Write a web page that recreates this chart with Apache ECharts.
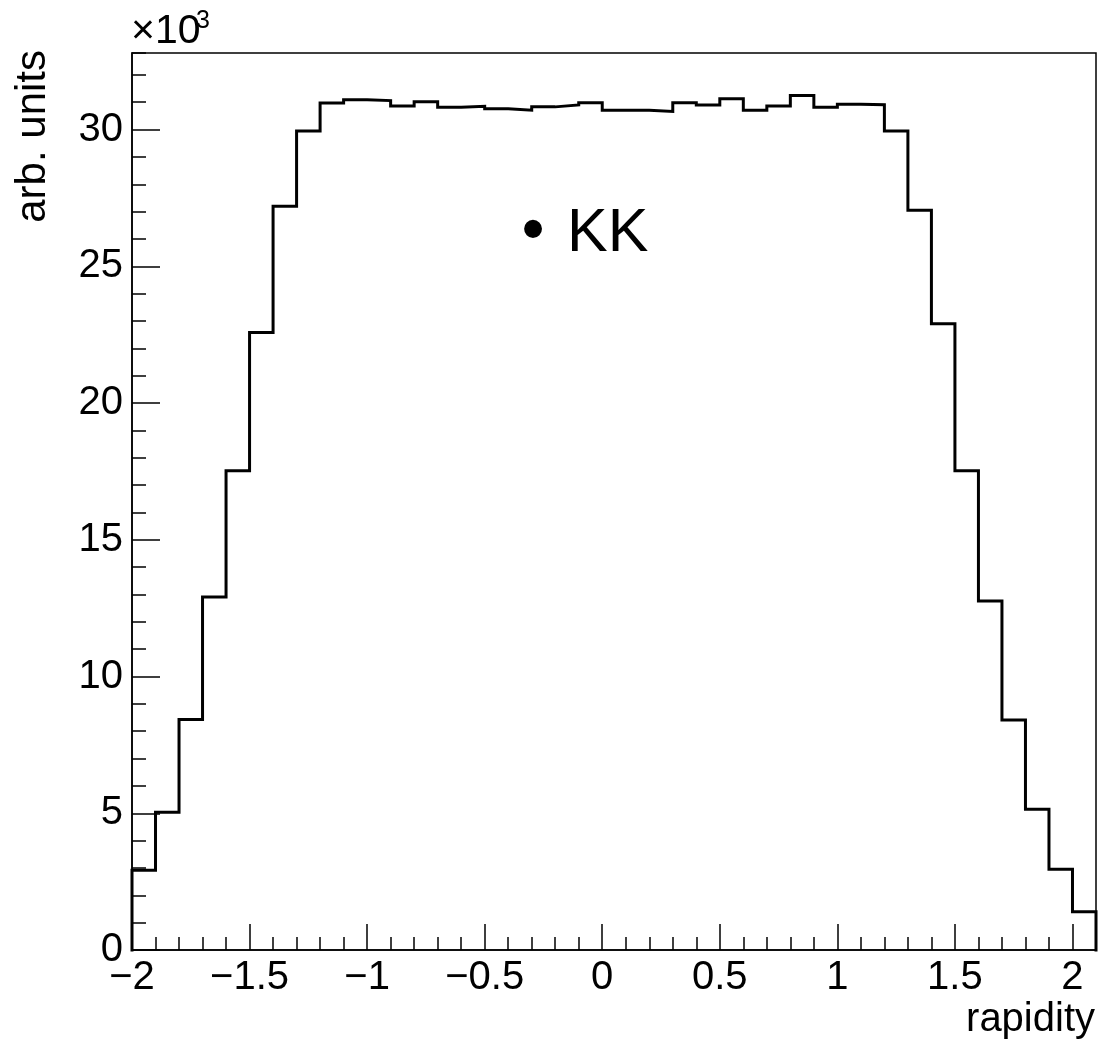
<!DOCTYPE html>
<html>
<head>
<meta charset="utf-8">
<script src="https://cdn.jsdelivr.net/npm/echarts@6/dist/echarts.min.js"></script>
<style>
  html, body { margin: 0; padding: 0; background: #ffffff; }
  #chart { width: 1105px; height: 1044px; }
</style>
</head>
<body>
<div id="chart"></div>
<script>
// Rapidity bin edges (41 bins, width 0.1)
const binEdges = [
  -2.0, -1.9, -1.8, -1.7, -1.6, -1.5, -1.4, -1.3, -1.2, -1.1,
  -1.0, -0.9, -0.8, -0.7, -0.6, -0.5, -0.4, -0.3, -0.2, -0.1,
   0.0,  0.1,  0.2,  0.3,  0.4,  0.5,  0.6,  0.7,  0.8,  0.9,
   1.0,  1.1,  1.2,  1.3,  1.4,  1.5,  1.6,  1.7,  1.8,  1.9,
   2.0,  2.1
];

// Entries per bin (arb. units)
const binCounts = [
   2920,  5040,  8430, 12910, 17520, 22580, 27200, 29950, 30970, 31090,
  31060, 30860, 31020, 30820, 30850, 30760, 30710, 30830, 30900, 30980,
  30710, 30710, 30660, 30980, 30900, 31130, 30710, 30860, 31250, 30820,
  30930, 30910, 29950, 27050, 22900, 17520, 12760,  8410,  5150,  2950,
   1400
];

// Axis ranges
const xRange = [-2.0, 2.1];
const yRange = [0, 32800];
const xMajorStep = 0.5, xMinorStep = 0.1;
const yMajorStep = 5000, yMinorStep = 1000;

const FONT = '"Liberation Sans", Arial, Helvetica, sans-serif';
const BLACK = '#000000';

// Outline of the histogram: start at zero on the first edge, one point per bin, back to zero on the last edge
const outline = [[binEdges[0], 0]];
binCounts.forEach((c, i) => outline.push([binEdges[i], c]));
outline.push([binEdges[binEdges.length - 1], binCounts[binCounts.length - 1]]);
outline.push([binEdges[binEdges.length - 1], 0]);

function minusSign(s) { return s.replace('-', '\u2212'); }
function near(a, b) { return Math.abs(a - b) < 1e-6; }

const chart = echarts.init(document.getElementById('chart'), null, { renderer: 'canvas' });

const tickStyle = { color: BLACK, width: 1.5 };

chart.setOption({
  animation: false,
  backgroundColor: '#ffffff',
  grid: {
    left: 132, top: 53, right: 9, bottom: 94,
    show: true, borderColor: BLACK, borderWidth: 1.5,
    backgroundColor: 'transparent'
  },
  xAxis: [
    {
      type: 'value', position: 'bottom',
      min: xRange[0], max: xRange[1], interval: xMajorStep,
      axisLine: { show: true, onZero: false, lineStyle: tickStyle },
      axisTick: { show: true, inside: true, length: 26, lineStyle: tickStyle },
      axisLabel: {
        color: BLACK, fontSize: 40, fontFamily: FONT, margin: 8,
        showMaxLabel: false,
        formatter: v => near(v, xRange[1]) ? '' : minusSign(String(+v.toFixed(2)))
      },
      splitLine: { show: false }
    },
    {
      type: 'value', position: 'bottom',
      min: xRange[0], max: xRange[1], interval: xMinorStep,
      axisLine: { show: false, onZero: false },
      axisTick: { show: true, inside: true, length: 13, lineStyle: tickStyle },
      axisLabel: { show: false },
      splitLine: { show: false }
    }
  ],
  yAxis: [
    {
      type: 'value', position: 'left',
      min: yRange[0], max: yRange[1], interval: yMajorStep,
      axisLine: { show: true, onZero: false, lineStyle: tickStyle },
      axisTick: { show: true, inside: true, length: 28, lineStyle: tickStyle },
      axisLabel: {
        color: BLACK, fontSize: 40, fontFamily: FONT, margin: 9,
        showMaxLabel: false,
        formatter: v => near(v, yRange[1]) ? '' : String(Math.round(v / 1000))
      },
      splitLine: { show: false }
    },
    {
      type: 'value', position: 'left',
      min: yRange[0], max: yRange[1], interval: yMinorStep,
      axisLine: { show: false, onZero: false },
      axisTick: { show: true, inside: true, length: 14, lineStyle: tickStyle },
      axisLabel: { show: false },
      splitLine: { show: false }
    }
  ],
  series: [
    {
      name: 'KK',
      type: 'line',
      xAxisIndex: 0, yAxisIndex: 0,
      step: 'end',
      data: outline,
      showSymbol: false,
      symbol: 'none',
      lineStyle: { color: BLACK, width: 3, join: 'miter', cap: 'square' },
      silent: true,
      clip: false
    }
  ],
  graphic: [
    {
      type: 'text', x: 33, y: 50, rotation: Math.PI / 2,
      style: { text: 'arb. units', font: '42px ' + FONT, fill: BLACK, align: 'right', verticalAlign: 'middle' }
    },
    {
      type: 'text', x: 1095, y: 1020,
      style: { text: 'rapidity', font: '40px ' + FONT, fill: BLACK, align: 'right', verticalAlign: 'middle' }
    },
    {
      type: 'text', x: 131, y: 32,
      style: { text: '\u00d710', font: '41px ' + FONT, fill: BLACK, align: 'left', verticalAlign: 'middle' }
    },
    {
      type: 'text', x: 196, y: 21,
      style: { text: '3', font: '25px ' + FONT, fill: BLACK, align: 'left', verticalAlign: 'middle' }
    },
    {
      type: 'text', x: 533, y: 233,
      style: { text: '\u2022', font: '66px ' + FONT, fill: BLACK, align: 'center', verticalAlign: 'middle' }
    },
    {
      type: 'text', x: 567, y: 234,
      style: { text: 'KK', font: '61px ' + FONT, fill: BLACK, align: 'left', verticalAlign: 'middle' }
    }
  ]
});
</script>
</body>
</html>
